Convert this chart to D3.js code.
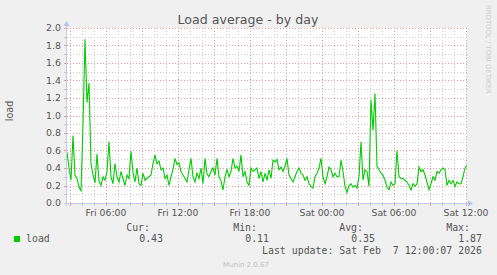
<!DOCTYPE html>
<html>
<head>
<meta charset="utf-8">
<script src="https://cdn.jsdelivr.net/npm/d3@7"></script>
<style>
  body { margin: 0; background: #f0f0f0; }
  svg { display: block; }
</style>
</head>
<body>
<div id="wrapper"></div>
<script>
// load average, one sample every 10 minutes, starting Fri 02:45
const startTime = new Date(2026, 1, 6, 2, 45)
const endTime = new Date(2026, 1, 7, 12, 5)
const stepMinutes = 10

const loadValues = [
  0.58, 0.4, 0.26, 0.77, 0.32, 0.28, 0.18, 0.14, 0.9, 1.87,
  1.15, 1.37, 0.45, 0.32, 0.23, 0.56, 0.25, 0.2, 0.3, 0.26,
  0.36, 0.7, 0.3, 0.22, 0.45, 0.3, 0.24, 0.36, 0.28, 0.2,
  0.32, 0.28, 0.59, 0.35, 0.24, 0.4, 0.22, 0.2, 0.34, 0.26,
  0.28, 0.3, 0.32, 0.45, 0.55, 0.45, 0.48, 0.38, 0.4, 0.28,
  0.32, 0.2, 0.3, 0.38, 0.51, 0.44, 0.46, 0.36, 0.32, 0.28,
  0.24, 0.38, 0.51, 0.3, 0.24, 0.34, 0.28, 0.4, 0.22, 0.51,
  0.33, 0.3, 0.36, 0.4, 0.32, 0.51, 0.3, 0.25, 0.15, 0.3,
  0.38, 0.3, 0.36, 0.51, 0.4, 0.42, 0.36, 0.55, 0.3, 0.36,
  0.24, 0.2, 0.4, 0.36, 0.38, 0.4, 0.28, 0.36, 0.24, 0.34,
  0.26, 0.38, 0.28, 0.49, 0.47, 0.5, 0.38, 0.41, 0.36, 0.42,
  0.51, 0.32, 0.28, 0.24, 0.3, 0.36, 0.4, 0.34, 0.32, 0.26,
  0.3, 0.22, 0.19, 0.17, 0.3, 0.34, 0.4, 0.51, 0.3, 0.22,
  0.3, 0.41, 0.38, 0.3, 0.34, 0.3, 0.3, 0.49, 0.36, 0.19,
  0.12, 0.2, 0.22, 0.18, 0.2, 0.17, 0.3, 0.7, 0.26, 0.38,
  0.36, 0.19, 1.18, 0.83, 1.25, 0.42, 0.38, 0.34, 0.32, 0.26,
  0.18, 0.15, 0.24, 0.2, 0.22, 0.6, 0.3, 0.28, 0.28, 0.26,
  0.24, 0.2, 0.15, 0.22, 0.19, 0.22, 0.41, 0.36, 0.38, 0.32,
  0.24, 0.15, 0.22, 0.3, 0.26, 0.36, 0.34, 0.38, 0.4, 0.38,
  0.2, 0.26, 0.22, 0.26, 0.19, 0.24, 0.22, 0.22, 0.3, 0.4,
  0.43
]

const yDomain = [0, 2]
const seriesName = "load"
const legendHeads = ["Cur:", "Min:", "Avg:", "Max:"]
const legendValues = ["0.43", "0.11", "0.35", "1.87"]
const lastUpdate = "Last update: Sat Feb  7 12:00:07 2026"

const dataset = loadValues.map((v, i) => ({
  date: d3.timeMinute.offset(startTime, i * stepMinutes),
  value: v,
}))

const xAccessor = d => d.date
const yAccessor = d => d.value

let dimensions = {
  width: 497,
  height: 275,
  margin: { top: 28, left: 67 },
  boundedWidth: 400,
  boundedHeight: 175,
}

const svg = d3.select("#wrapper")
  .append("svg")
    .attr("width", dimensions.width)
    .attr("height", dimensions.height)

svg.append("rect")
  .attr("width", dimensions.width)
  .attr("height", dimensions.height)
  .attr("fill", "#f0f0f0")

const bounds = svg.append("g")
  .attr("transform", `translate(${dimensions.margin.left}, ${dimensions.margin.top})`)

const xScale = d3.scaleTime()
  .domain([startTime, endTime])
  .range([0, dimensions.boundedWidth])

const yScale = d3.scaleLinear()
  .domain(yDomain)
  .range([dimensions.boundedHeight, 0])

// canvas
bounds.append("rect")
  .attr("width", dimensions.boundedWidth)
  .attr("height", dimensions.boundedHeight)
  .attr("fill", "#ffffff")

// grid: minor grey, major red
const minorColor = "#cccccc"
const majorColor = "#e39a9a"

const yMinor = d3.range(0, 2.0001, 0.1)
const yMajor = d3.range(0, 2.0001, 0.2)

bounds.append("g").selectAll("line")
  .data(yMinor.filter(v => yMajor.every(m => Math.abs(m - v) > 1e-6)))
  .join("line")
    .attr("x1", 0).attr("x2", dimensions.boundedWidth)
    .attr("y1", d => Math.round(yScale(d)) + 0.5)
    .attr("y2", d => Math.round(yScale(d)) + 0.5)
    .attr("stroke", minorColor)
    .attr("stroke-dasharray", "1,2")

const hours = d3.timeHour.range(startTime, endTime)
const majorHours = hours.filter(d => d.getHours() % 3 == 0)

bounds.append("g").selectAll("line")
  .data(hours.filter(d => d.getHours() % 3 != 0))
  .join("line")
    .attr("x1", d => Math.round(xScale(d)) + 0.5)
    .attr("x2", d => Math.round(xScale(d)) + 0.5)
    .attr("y1", 0).attr("y2", dimensions.boundedHeight)
    .attr("stroke", minorColor)
    .attr("stroke-dasharray", "1,2")

bounds.append("g").selectAll("line")
  .data(yMajor)
  .join("line")
    .attr("x1", 0).attr("x2", dimensions.boundedWidth)
    .attr("y1", d => Math.round(yScale(d)) + 0.5)
    .attr("y2", d => Math.round(yScale(d)) + 0.5)
    .attr("stroke", majorColor)
    .attr("stroke-dasharray", "1,2")

bounds.append("g").selectAll("line")
  .data(majorHours)
  .join("line")
    .attr("x1", d => Math.round(xScale(d)) + 0.5)
    .attr("x2", d => Math.round(xScale(d)) + 0.5)
    .attr("y1", 0).attr("y2", dimensions.boundedHeight)
    .attr("stroke", majorColor)
    .attr("stroke-dasharray", "1,2")

// small ticks outside the canvas
bounds.append("g").selectAll("line")
  .data(yMinor)
  .join("line")
    .attr("x1", -3).attr("x2", 0)
    .attr("y1", d => Math.round(yScale(d)) + 0.5)
    .attr("y2", d => Math.round(yScale(d)) + 0.5)
    .attr("stroke", (d, i) => i % 2 == 0 ? majorColor : "#c8c8c8")

bounds.append("g").selectAll("line")
  .data(hours)
  .join("line")
    .attr("x1", d => Math.round(xScale(d)) + 0.5)
    .attr("x2", d => Math.round(xScale(d)) + 0.5)
    .attr("y1", dimensions.boundedHeight).attr("y2", dimensions.boundedHeight + 3)
    .attr("stroke", d => d.getHours() % 3 == 0 ? majorColor : "#c8c8c8")

// the load line
bounds.append("clipPath").attr("id", "clip")
  .append("rect")
    .attr("width", dimensions.boundedWidth)
    .attr("height", dimensions.boundedHeight)

const lineGenerator = d3.line()
  .x(d => xScale(xAccessor(d)))
  .y(d => yScale(yAccessor(d)))

bounds.append("path")
  .attr("clip-path", "url(#clip)")
  .attr("d", lineGenerator(dataset))
  .attr("fill", "none")
  .attr("stroke", "#00cc00")
  .attr("stroke-width", 1.1)

// axes with arrows
const axisColor = "#c4c8ec"
bounds.append("line")
  .attr("x1", -0.5).attr("x2", -0.5)
  .attr("y1", dimensions.boundedHeight + 3).attr("y2", -3)
  .attr("stroke", axisColor)
bounds.append("line")
  .attr("x1", -3).attr("x2", dimensions.boundedWidth + 3)
  .attr("y1", dimensions.boundedHeight + 0.5).attr("y2", dimensions.boundedHeight + 0.5)
  .attr("stroke", axisColor)
bounds.append("path")
  .attr("d", "M-3.5,-2 L2.5,-2 L-0.5,-7 Z")
  .attr("fill", "#b4c0f0")
bounds.append("path")
  .attr("d", `M${dimensions.boundedWidth + 1},${dimensions.boundedHeight - 2.5} L${dimensions.boundedWidth + 1},${dimensions.boundedHeight + 3.5} L${dimensions.boundedWidth + 6},${dimensions.boundedHeight + 0.5} Z`)
  .attr("fill", "#b4c0f0")

// tick labels
const textColor = "#555555"
const sansFont = "DejaVu Sans"
const monoFont = "DejaVu Sans Mono"

bounds.append("g").selectAll("text")
  .data(yMajor)
  .join("text")
    .attr("x", -6)
    .attr("y", d => yScale(d) + 3.4)
    .attr("text-anchor", "end")
    .attr("font-family", sansFont)
    .attr("font-size", 9.4)
    .attr("fill", textColor)
    .text(d => d3.format(".1f")(d))

bounds.append("g").selectAll("text")
  .data(hours.filter(d => d.getHours() % 6 == 0))
  .join("text")
    .attr("x", d => xScale(d))
    .attr("y", dimensions.boundedHeight + 13)
    .attr("text-anchor", "middle")
    .attr("font-family", sansFont)
    .attr("font-size", 9.3)
    .attr("fill", textColor)
    .text(d3.timeFormat("%a %H:%M"))

// title and side labels
svg.append("text")
  .attr("x", 248)
  .attr("y", 24)
  .attr("text-anchor", "middle")
  .attr("font-family", sansFont)
  .attr("font-size", 12.6)
  .attr("fill", textColor)
  .text("Load average - by day")

svg.append("text")
  .attr("transform", "translate(13, 111) rotate(-90)")
  .attr("text-anchor", "middle")
  .attr("font-family", sansFont)
  .attr("font-size", 9.6)
  .attr("fill", textColor)
  .text(seriesName)

svg.append("text")
  .attr("transform", "translate(486, 5) rotate(90)")
  .attr("font-family", sansFont)
  .attr("font-size", 6.9)
  .attr("fill", "#cccccc")
  .text("RRDTOOL / TOBI OETIKER")

// legend
const headRight = [150, 257, 363, 470]
const valueRight = [163, 269, 375, 482]

svg.append("g").selectAll("text")
  .data(legendHeads)
  .join("text")
    .attr("x", (d, i) => headRight[i])
    .attr("y", 231)
    .attr("text-anchor", "end")
    .attr("font-family", monoFont)
    .attr("font-size", 9.9)
    .attr("fill", textColor)
    .text(d => d)

svg.append("g").selectAll("text")
  .data(legendValues)
  .join("text")
    .attr("x", (d, i) => valueRight[i])
    .attr("y", 242)
    .attr("text-anchor", "end")
    .attr("font-family", monoFont)
    .attr("font-size", 9.9)
    .attr("fill", textColor)
    .text(d => d)

svg.append("rect")
  .attr("x", 14).attr("y", 236)
  .attr("width", 6).attr("height", 6)
  .attr("fill", "#00cc00")

svg.append("text")
  .attr("x", 26).attr("y", 242)
  .attr("font-family", monoFont)
  .attr("font-size", 9.9)
  .attr("fill", textColor)
  .text(seriesName)

svg.append("text")
  .attr("x", 482).attr("y", 254)
  .attr("text-anchor", "end")
  .attr("font-family", monoFont)
  .attr("font-size", 9.9)
  .attr("fill", textColor)
  .style("white-space", "pre")
  .text(lastUpdate)

svg.append("text")
  .attr("x", 246).attr("y", 267)
  .attr("text-anchor", "middle")
  .attr("font-family", sansFont)
  .attr("font-size", 7)
  .attr("fill", "#c0c0c0")
  .text("Munin 2.0.67")
</script>
</body>
</html>
